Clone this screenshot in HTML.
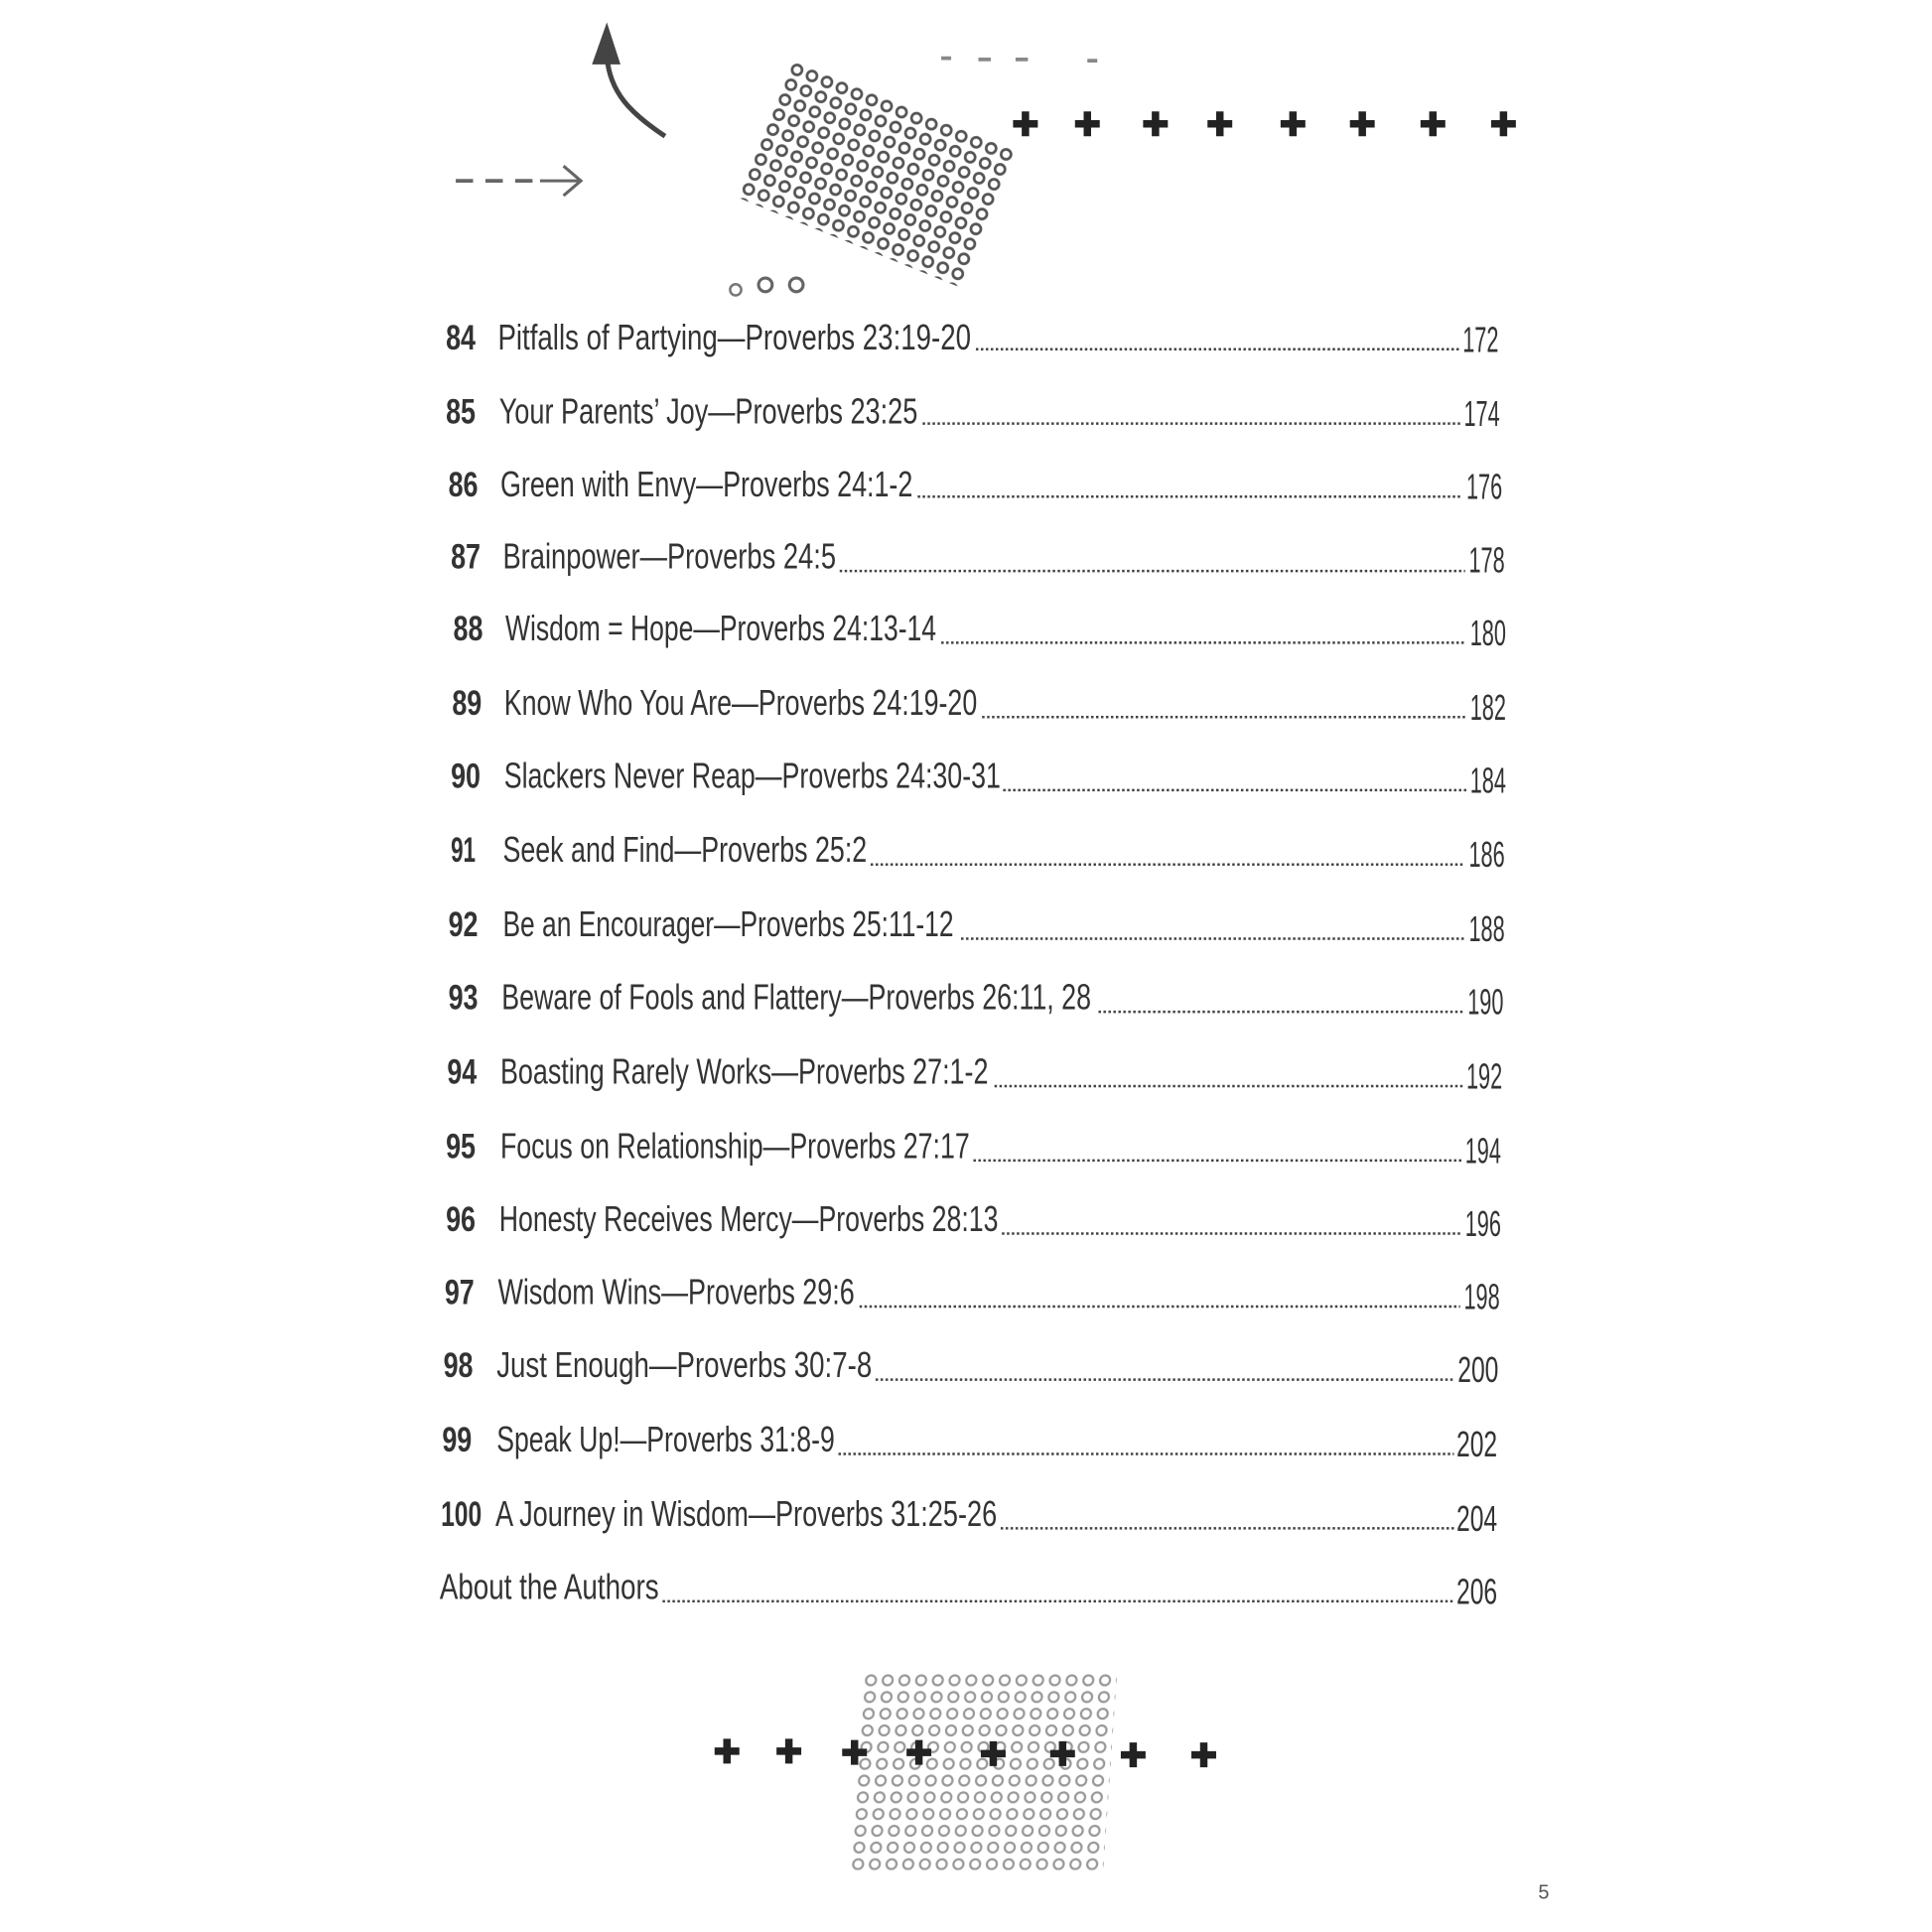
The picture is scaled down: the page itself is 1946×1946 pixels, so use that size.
<!DOCTYPE html>
<html><head><meta charset="utf-8"><style>
html,body{margin:0;padding:0;background:#fff;}
svg{display:block;}
text{font-family:"Liberation Sans",sans-serif;fill:#333;}
.n{font-weight:bold;font-size:28px;}
.t{font-size:29px;}
.dots{stroke:#444;stroke-width:2;stroke-dasharray:2 2;}
</style></head><body>
<svg width="1946" height="1946" viewBox="0 0 1560 1560" xmlns="http://www.w3.org/2000/svg">
<defs>
<pattern id="ring" width="13" height="13" patternUnits="userSpaceOnUse">
<circle cx="6.5" cy="6.5" r="4" fill="none" stroke="#555" stroke-width="2.2"/>
</pattern>
<pattern id="ring2" width="13.5" height="13.5" patternUnits="userSpaceOnUse">
<circle cx="6.75" cy="6.75" r="4" fill="none" stroke="#999" stroke-width="1.8"/>
</pattern>
<g id="plus"><path d="M-3,-10 h6 v7 h7 v6 h-7 v7 h-6 v-7 h-7 v-6 h7z" fill="#222"/></g>
</defs>

<path d="M537,110 C510,92 492,75 490,45" fill="none" stroke="#444" stroke-width="4"/>
<path d="M490,18 L478,52 L501,52 Z" fill="#444"/>
<path d="M368,146 h14 M392,146 h14 M416,146 h14" stroke="#666" stroke-width="3"/>
<path d="M436,146 h32 M455,134 L469,146 L455,158" fill="none" stroke="#666" stroke-width="2.5"/>
<path d="M760,47 h8 M790,48 h10 M820,48 h10 M878,49 h8" stroke="#888" stroke-width="3"/>
<rect x="0" y="0" width="195" height="120" fill="url(#ring)" transform="translate(640,48) rotate(22)"/>
<circle cx="594" cy="234" r="4.5" fill="none" stroke="#777" stroke-width="2"/>
<circle cx="618" cy="230" r="5.5" fill="none" stroke="#666" stroke-width="2.5"/>
<circle cx="643" cy="230" r="5.5" fill="none" stroke="#666" stroke-width="2.5"/>
<use href="#plus" x="828" y="100"/><use href="#plus" x="878" y="100"/><use href="#plus" x="933" y="100"/><use href="#plus" x="985" y="100"/>
<use href="#plus" x="1044" y="100"/><use href="#plus" x="1100" y="100"/><use href="#plus" x="1157" y="100"/><use href="#plus" x="1214" y="100"/>

<g>
<text class="n" x="360" y="282" textLength="24" lengthAdjust="spacingAndGlyphs">84</text><text class="t" x="402" y="282" textLength="382" lengthAdjust="spacingAndGlyphs">Pitfalls of Partying—Proverbs 23:19-20</text><line class="dots" x1="788" y1="282" x2="1178" y2="282"/><text class="t" x="1181" y="284" textLength="29" lengthAdjust="spacingAndGlyphs">172</text>
<text class="n" x="360" y="342" textLength="24" lengthAdjust="spacingAndGlyphs">85</text><text class="t" x="403" y="342" textLength="338" lengthAdjust="spacingAndGlyphs">Your Parents’ Joy—Proverbs 23:25</text><line class="dots" x1="745" y1="342" x2="1179" y2="342"/><text class="t" x="1182" y="344" textLength="29" lengthAdjust="spacingAndGlyphs">174</text>
<text class="n" x="362" y="401" textLength="24" lengthAdjust="spacingAndGlyphs">86</text><text class="t" x="404" y="401" textLength="333" lengthAdjust="spacingAndGlyphs">Green with Envy—Proverbs 24:1-2</text><line class="dots" x1="741" y1="401" x2="1181" y2="401"/><text class="t" x="1184" y="403" textLength="29" lengthAdjust="spacingAndGlyphs">176</text>
<text class="n" x="364" y="459" textLength="24" lengthAdjust="spacingAndGlyphs">87</text><text class="t" x="406" y="459" textLength="269" lengthAdjust="spacingAndGlyphs">Brainpower—Proverbs 24:5</text><line class="dots" x1="678" y1="461" x2="1183" y2="461"/><text class="t" x="1186" y="462" textLength="29" lengthAdjust="spacingAndGlyphs">178</text>
<text class="n" x="366" y="517" textLength="24" lengthAdjust="spacingAndGlyphs">88</text><text class="t" x="408" y="517" textLength="348" lengthAdjust="spacingAndGlyphs">Wisdom = Hope—Proverbs 24:13-14</text><line class="dots" x1="760" y1="519" x2="1184" y2="519"/><text class="t" x="1187" y="521" textLength="29" lengthAdjust="spacingAndGlyphs">180</text>
<text class="n" x="365" y="577" textLength="24" lengthAdjust="spacingAndGlyphs">89</text><text class="t" x="407" y="577" textLength="382" lengthAdjust="spacingAndGlyphs">Know Who You Are—Proverbs 24:19-20</text><line class="dots" x1="793" y1="579" x2="1184" y2="579"/><text class="t" x="1187" y="581" textLength="29" lengthAdjust="spacingAndGlyphs">182</text>
<text class="n" x="364" y="636" textLength="24" lengthAdjust="spacingAndGlyphs">90</text><text class="t" x="407" y="636" textLength="401" lengthAdjust="spacingAndGlyphs">Slackers Never Reap—Proverbs 24:30-31</text><line class="dots" x1="810" y1="638" x2="1184" y2="638"/><text class="t" x="1187" y="640" textLength="29" lengthAdjust="spacingAndGlyphs">184</text>
<text class="n" x="364" y="696" textLength="20" lengthAdjust="spacingAndGlyphs">91</text><text class="t" x="406" y="696" textLength="294" lengthAdjust="spacingAndGlyphs">Seek and Find—Proverbs 25:2</text><line class="dots" x1="703" y1="698" x2="1183" y2="698"/><text class="t" x="1186" y="700" textLength="29" lengthAdjust="spacingAndGlyphs">186</text>
<text class="n" x="362" y="756" textLength="24" lengthAdjust="spacingAndGlyphs">92</text><text class="t" x="406" y="756" textLength="364" lengthAdjust="spacingAndGlyphs">Be an Encourager—Proverbs 25:11-12</text><line class="dots" x1="776" y1="758" x2="1183" y2="758"/><text class="t" x="1186" y="760" textLength="29" lengthAdjust="spacingAndGlyphs">188</text>
<text class="n" x="362" y="815" textLength="24" lengthAdjust="spacingAndGlyphs">93</text><text class="t" x="405" y="815" textLength="476" lengthAdjust="spacingAndGlyphs">Beware of Fools and Flattery—Proverbs 26:11, 28</text><line class="dots" x1="887" y1="817" x2="1182" y2="817"/><text class="t" x="1185" y="819" textLength="29" lengthAdjust="spacingAndGlyphs">190</text>
<text class="n" x="361" y="875" textLength="24" lengthAdjust="spacingAndGlyphs">94</text><text class="t" x="404" y="875" textLength="394" lengthAdjust="spacingAndGlyphs">Boasting Rarely Works—Proverbs 27:1-2</text><line class="dots" x1="803" y1="877" x2="1181" y2="877"/><text class="t" x="1184" y="879" textLength="29" lengthAdjust="spacingAndGlyphs">192</text>
<text class="n" x="360" y="935" textLength="24" lengthAdjust="spacingAndGlyphs">95</text><text class="t" x="404" y="935" textLength="379" lengthAdjust="spacingAndGlyphs">Focus on Relationship—Proverbs 27:17</text><line class="dots" x1="786" y1="937" x2="1180" y2="937"/><text class="t" x="1183" y="939" textLength="29" lengthAdjust="spacingAndGlyphs">194</text>
<text class="n" x="360" y="994" textLength="24" lengthAdjust="spacingAndGlyphs">96</text><text class="t" x="403" y="994" textLength="403" lengthAdjust="spacingAndGlyphs">Honesty Receives Mercy—Proverbs 28:13</text><line class="dots" x1="809" y1="996" x2="1180" y2="996"/><text class="t" x="1183" y="998" textLength="29" lengthAdjust="spacingAndGlyphs">196</text>
<text class="n" x="359" y="1053" textLength="24" lengthAdjust="spacingAndGlyphs">97</text><text class="t" x="402" y="1053" textLength="288" lengthAdjust="spacingAndGlyphs">Wisdom Wins—Proverbs 29:6</text><line class="dots" x1="694" y1="1055" x2="1179" y2="1055"/><text class="t" x="1182" y="1057" textLength="29" lengthAdjust="spacingAndGlyphs">198</text>
<text class="n" x="358" y="1112" textLength="24" lengthAdjust="spacingAndGlyphs">98</text><text class="t" x="401" y="1112" textLength="303" lengthAdjust="spacingAndGlyphs">Just Enough—Proverbs 30:7-8</text><line class="dots" x1="707" y1="1114" x2="1175" y2="1114"/><text class="t" x="1177" y="1116" textLength="33" lengthAdjust="spacingAndGlyphs">200</text>
<text class="n" x="357" y="1172" textLength="24" lengthAdjust="spacingAndGlyphs">99</text><text class="t" x="401" y="1172" textLength="273" lengthAdjust="spacingAndGlyphs">Speak Up!—Proverbs 31:8-9</text><line class="dots" x1="677" y1="1174" x2="1174" y2="1174"/><text class="t" x="1176" y="1176" textLength="33" lengthAdjust="spacingAndGlyphs">202</text>
<text class="n" x="356" y="1232" textLength="33" lengthAdjust="spacingAndGlyphs">100</text><text class="t" x="400" y="1232" textLength="405" lengthAdjust="spacingAndGlyphs">A Journey in Wisdom—Proverbs 31:25-26</text><line class="dots" x1="808" y1="1234" x2="1174" y2="1234"/><text class="t" x="1176" y="1236" textLength="33" lengthAdjust="spacingAndGlyphs">204</text>
<text class="t" x="355" y="1291" textLength="177" lengthAdjust="spacingAndGlyphs">About the Authors</text><line class="dots" x1="535" y1="1293" x2="1174" y2="1293"/><text class="t" x="1176" y="1295" textLength="33" lengthAdjust="spacingAndGlyphs">206</text>
</g>

<rect x="0" y="0" width="205" height="160" fill="url(#ring2)" transform="translate(697,1350) skewX(-4)"/>
<use href="#plus" x="587" y="1414"/><use href="#plus" x="637" y="1414"/><use href="#plus" x="690" y="1415"/><use href="#plus" x="742" y="1415"/>
<use href="#plus" x="802" y="1416"/><use href="#plus" x="858" y="1416"/><use href="#plus" x="915" y="1417"/><use href="#plus" x="972" y="1417"/>
<text x="1242" y="1533" style="font-size:16px;fill:#555">5</text>
</svg>
</body></html>
